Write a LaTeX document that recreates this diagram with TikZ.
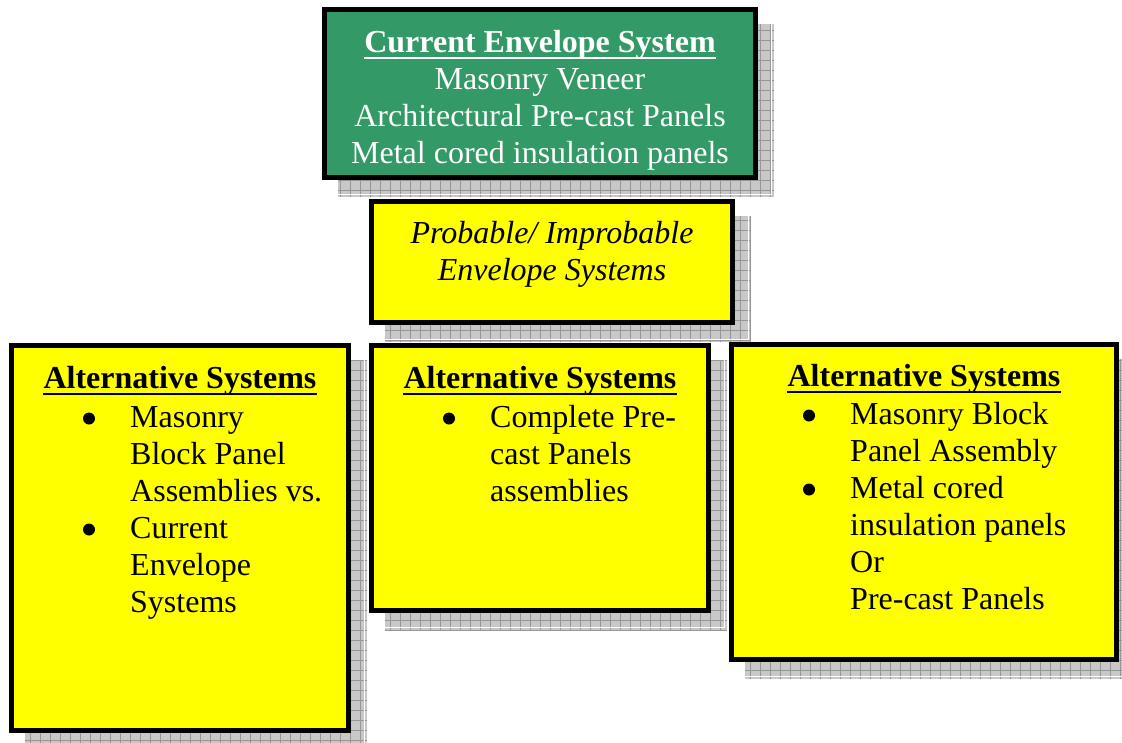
\documentclass[tikz,border=0pt]{standalone}
\usepackage{fontspec}
\setmainfont{Liberation Serif}
\usetikzlibrary{backgrounds}

\definecolor{seagreen}{RGB}{51,153,102}
\definecolor{panelyellow}{RGB}{255,255,0}
\definecolor{shadowgray}{RGB}{200,200,200}
\definecolor{shadowgrid}{RGB}{150,150,150}

\tikzset{
  panel/.style={draw=black, line width=5pt, rectangle, inner sep=0pt},
  greenpanel/.style={panel, fill=seagreen},
  yellowpanel/.style={panel, fill=panelyellow},
  txt/.style={inner sep=0pt, font=\fontsize{32}{37}\selectfont},
  wtxt/.style={txt, text=white},
  headtxt/.style={txt, font=\fontsize{32}{37}\selectfont\bfseries},
  dot/.style={circle, fill=black, inner sep=0pt, minimum size=12pt},
  uline/.style={line width=2.6pt},
}

% grey hatched drop shadow behind a panel, offset down and to the right
\newcommand\dropshadow[1]{%
  \begin{scope}[on background layer]
    \begin{scope}
      \clip ([shift={(16,17)}]#1.north west) rectangle ([shift={(16,17)}]#1.south east);
      \fill[shadowgray] ([shift={(16,17)}]#1.north west) rectangle ([shift={(16,17)}]#1.south east);
      \draw[shadowgrid, line width=0.8pt, step=10pt]
        ([shift={(16,17)}]#1.north west) grid ([shift={(16,17)}]#1.south east);
    \end{scope}
    \draw[white, line width=1pt]
      ([shift={(16,14)}]#1.south west) -| ([shift={(13,17)}]#1.north east);
  \end{scope}}

\begin{document}
\begin{tikzpicture}[x=1pt, y=-1pt]
\useasboundingbox (0,0) rectangle (1122,742);
\begin{scope}[on background layer]
  \fill[white] (0,0) rectangle (1122,742);
\end{scope}

% ---- panels ----
\node[greenpanel,  minimum width=431, minimum height=168] (cur)  at (540,93.5) {};
\node[yellowpanel, minimum width=361, minimum height=121] (prob) at (552,262)  {};
\node[yellowpanel, minimum width=337, minimum height=385] (altA) at (180,538)  {};
\node[yellowpanel, minimum width=337, minimum height=265] (altB) at (540,478)  {};
\node[yellowpanel, minimum width=385, minimum height=315] (altC) at (924,502)  {};

\dropshadow{cur}
\dropshadow{prob}
\dropshadow{altA}
\dropshadow{altB}
\dropshadow{altC}

% ---- current envelope system ----
\node[headtxt, text=white, anchor=base] (curH) at (540,52) {Current Envelope System};
\draw[uline, white] ([shift={(0,6)}]curH.base west) -- ([shift={(0,6)}]curH.base east);
\node[wtxt, anchor=base] (cur1) at (540,89)  {Masonry Veneer};
\node[wtxt, anchor=base] (cur2) at (540,126) {Architectural Pre-cast Panels};
\node[wtxt, anchor=base] (cur3) at (540,163) {Metal cored insulation panels};

% ---- probable / improbable ----
\node[txt, font=\fontsize{32}{37}\selectfont\itshape, anchor=base] (prob1) at (552,243) {Probable/ Improbable};
\node[txt, font=\fontsize{32}{37}\selectfont\itshape, anchor=base] (prob2) at (552,280) {Envelope Systems};

% ---- alternative systems, left ----
\node[headtxt, anchor=base] (aH) at (180,388) {Alternative Systems};
\draw[uline] ([shift={(0,6)}]aH.base west) -- ([shift={(0,6)}]aH.base east);
\node[dot] (aD1) at (89,418.5) {};
\node[txt, anchor=base west] (a1) at (130,427) {Masonry};
\node[txt, anchor=base west] (a2) at (130,464) {Block Panel};
\node[txt, anchor=base west] (a3) at (130,501) {Assemblies vs.};
\node[dot] (aD2) at (89,529.5) {};
\node[txt, anchor=base west] (a4) at (130,538) {Current};
\node[txt, anchor=base west] (a5) at (130,575) {Envelope};
\node[txt, anchor=base west] (a6) at (130,612) {Systems};

% ---- alternative systems, middle ----
\node[headtxt, anchor=base] (bH) at (540,388) {Alternative Systems};
\draw[uline] ([shift={(0,6)}]bH.base west) -- ([shift={(0,6)}]bH.base east);
\node[dot] (bD1) at (449,418.5) {};
\node[txt, anchor=base west] (b1) at (490,427) {Complete Pre-};
\node[txt, anchor=base west] (b2) at (490,464) {cast Panels};
\node[txt, anchor=base west] (b3) at (490,501) {assemblies};

% ---- alternative systems, right ----
\node[headtxt, anchor=base] (cH) at (924,386) {Alternative Systems};
\draw[uline] ([shift={(0,6)}]cH.base west) -- ([shift={(0,6)}]cH.base east);
\node[dot] (cD1) at (809,415.5) {};
\node[txt, anchor=base west] (c1) at (850,424) {Masonry Block};
\node[txt, anchor=base west] (c2) at (850,461) {Panel Assembly};
\node[dot] (cD2) at (809,489.5) {};
\node[txt, anchor=base west] (c3) at (850,498) {Metal cored};
\node[txt, anchor=base west] (c4) at (850,535) {insulation panels};
\node[txt, anchor=base west] (c5) at (850,572) {Or};
\node[txt, anchor=base west] (c6) at (850,609) {Pre-cast Panels};
\end{tikzpicture}
\end{document}
